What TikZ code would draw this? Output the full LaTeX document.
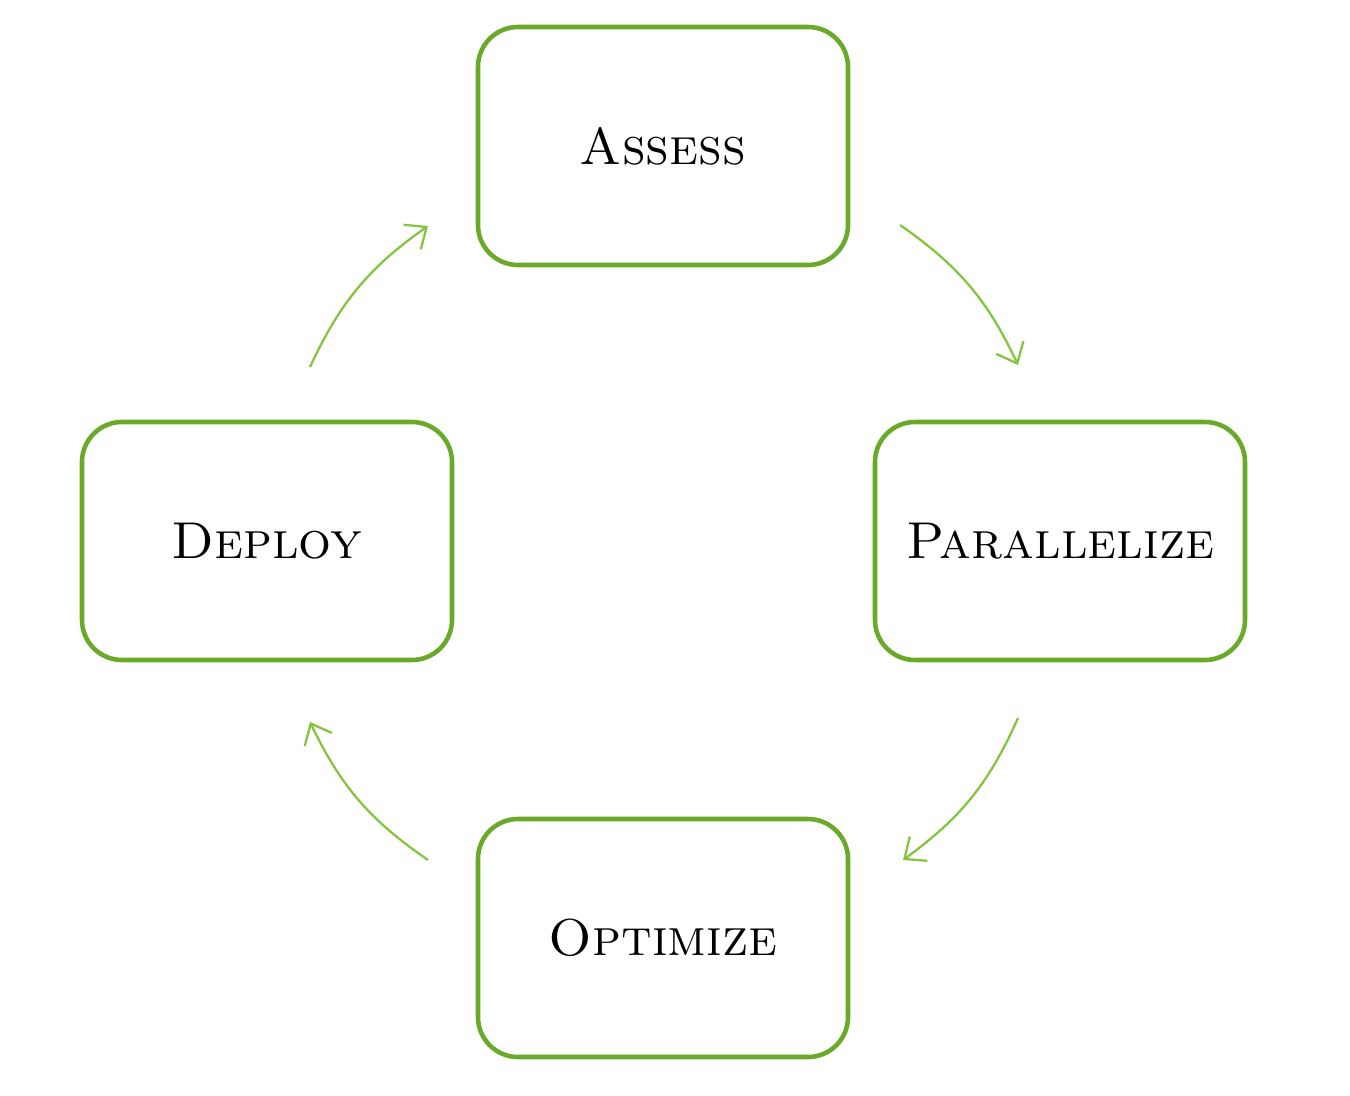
\documentclass[tikz,border=0pt]{standalone}
\usepackage{tikz}
\usetikzlibrary{arrows.meta}
\definecolor{boxgreen}{HTML}{6AAA2A}
\definecolor{arrowgreen}{HTML}{84C441}
\tikzset{
  stage/.style={draw=boxgreen,line width=2.6pt,rounded corners=0.8cm,minimum width=7.4cm,minimum height=4.76cm,font=\fontsize{29.5}{36}\selectfont},
  cycarrow/.style={draw=arrowgreen,line width=1.3pt,-{Straight Barb[length=3.5mm,width=6mm]}}
}
\begin{document}
\begin{tikzpicture}
    \useasboundingbox (0,0) rectangle (27,-21.92);
    \node[stage](assess)at(13.26,-2.92){\textsc{Assess}};
    \node[stage](parallelize)at(21.2,-10.82){\textsc{Parallelize}};
    \node[stage](optimize)at(13.26,-18.76){\textsc{Optimize}};
    \node[stage](deploy)at(5.34,-10.82){\textsc{Deploy}};
    \coordinate(a1)at(18,-4.5);
    \coordinate(a2)at(20.36,-7.3);
    \coordinate(b1)at(20.36,-14.36);
    \coordinate(b2)at(18.06,-17.2);
    \coordinate(c1)at(8.56,-17.2);
    \coordinate(c2)at(6.2,-14.44);
    \coordinate(d1)at(6.2,-7.34);
    \coordinate(d2)at(8.56,-4.52);
    \draw[cycarrow](a1)to[bend left=15](a2);
    \draw[cycarrow](b1)to[bend left=15](b2);
    \draw[cycarrow](c1)to[bend left=15](c2);
    \draw[cycarrow](d1)to[bend left=15](d2);
  \end{tikzpicture}
\end{document}
